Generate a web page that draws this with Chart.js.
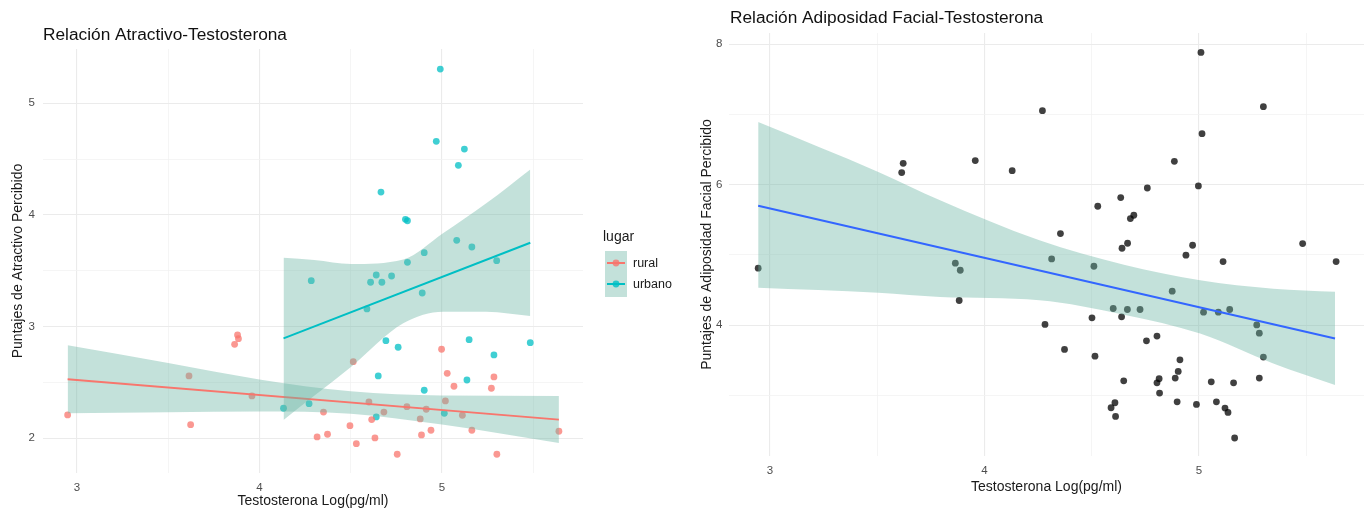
<!DOCTYPE html>
<html lang="es">
<head>
<meta charset="utf-8">
<title>Relación Testosterona</title>
<script src="https://cdn.jsdelivr.net/npm/chart.js@4.4.1/dist/chart.umd.min.js"></script>
<style>
  html, body { margin: 0; padding: 0; background: #fff; }
  #wrap { position: relative; width: 1369px; height: 512px; overflow: hidden; }
  #attrChart { position: absolute; left: 0; top: 0; }
  #adipChart { position: absolute; left: 690px; top: 0; }
</style>
</head>
<body>
<div id="wrap">
  <canvas id="attrChart" width="690" height="512"></canvas>
  <canvas id="adipChart" width="679" height="512"></canvas>
</div>
<script>
const FONT = '"Liberation Sans", Arial, sans-serif';

// --- Relación Atractivo-Testosterona ---
const ruralX = [2.949, 3.614, 3.623, 3.880, 3.885, 3.864, 3.959, 4.351, 4.316, 4.373, 4.496, 4.514, 4.531, 4.600, 4.615, 4.633, 4.682,
    4.755, 4.808, 4.881, 4.888, 4.914, 4.940, 4.998, 5.019, 5.029, 5.066, 5.112, 5.164, 5.271, 5.285, 5.301, 5.641];
const ruralY = [2.209, 2.558, 2.122, 2.925, 2.892, 2.841, 2.379, 2.235, 2.012, 2.036, 2.113, 2.686, 1.952, 2.325, 2.167, 2.003, 2.235,
    1.857, 2.283, 2.173, 2.030, 2.260, 2.072, 2.797, 2.334, 2.582, 2.466, 2.206, 2.072, 2.448, 2.549, 1.857, 2.063];
const urbanoX = [4.132, 4.272, 4.284, 4.589, 4.609, 4.640, 4.640, 4.651, 4.666, 4.671, 4.693, 4.724, 4.760, 4.800, 4.811, 4.811,
    4.892, 4.903, 4.903, 4.969, 4.991, 5.013, 5.081, 5.090, 5.123, 5.137, 5.149, 5.164, 5.285, 5.300, 5.484];
const urbanoY = [2.269, 2.310, 3.411, 3.158, 3.397, 3.462, 2.191, 2.558, 4.205, 3.397, 2.874, 3.453, 2.815, 3.961, 3.948, 3.576,
    3.301, 3.662, 2.430, 4.659, 5.306, 2.224, 3.773, 4.444, 4.590, 2.522, 2.883, 3.713, 2.746, 3.590, 2.856];

// fitted lines and confidence bands
const ruralFitX = [2.949, 5.641];
const ruralFitY = [2.528, 2.167];
const ruralBandX = [2.949, 3.5, 4.0, 4.5, 5.0, 5.641];
const ruralBandUpper = [2.833, 2.674, 2.527, 2.420, 2.383, 2.379];
const ruralBandLower = [2.224, 2.234, 2.240, 2.220, 2.123, 1.957];
const urbanoFitX = [4.132, 5.484];
const urbanoFitY = [2.895, 3.751];
const urbanoBandX = [4.132, 4.3, 4.503, 4.788, 5.006, 5.243, 5.484];
const urbanoBandUpper = [3.617, 3.596, 3.560, 3.600, 3.835, 4.104, 4.408];
const urbanoBandLower = [2.164, 2.380, 2.641, 3.030, 3.134, 3.134, 3.095];

const attrXTicks = [3, 4, 5];
const attrXMinor = [3.5, 4.5, 5.5];
const attrYTicks = [2, 3, 4, 5];
const attrYMinor = [2.5, 3.5, 4.5];
const legendLabels = ['rural', 'urbano'];

// --- Relación Adiposidad Facial-Testosterona ---
const adipX = [2.945, 3.614, 3.621, 3.864, 3.882, 3.887, 3.957, 4.129, 4.270, 4.282, 4.313, 4.354, 4.373, 4.501, 4.510, 4.515,
    4.528, 4.590, 4.600, 4.608, 4.611, 4.635, 4.639, 4.641, 4.649, 4.666, 4.667, 4.680, 4.696, 4.725, 4.755, 4.759, 4.804, 4.804,
    4.814, 4.816, 4.875, 4.885, 4.889, 4.898, 4.903, 4.911, 4.939, 4.970, 4.988, 4.997, 5.009, 5.014, 5.021, 5.057, 5.081, 5.090,
    5.112, 5.121, 5.135, 5.143, 5.161, 5.166, 5.269, 5.281, 5.281, 5.300, 5.300, 5.483, 5.639];
const adipY = [4.811, 6.172, 6.304, 4.882, 4.351, 4.782, 6.343, 6.200, 7.054, 4.010, 4.943, 5.304, 3.654, 4.104, 4.839, 3.559,
    5.693, 2.824, 4.237, 2.895, 2.701, 5.816, 4.118, 5.095, 3.208, 4.223, 5.166, 5.518, 5.565, 4.223, 3.777, 5.953, 3.844, 3.179,
    3.237, 3.033, 4.484, 6.333, 3.246, 2.909, 3.341, 3.507, 4.996, 5.138, 2.872, 5.982, 7.883, 6.727, 4.185, 3.193, 2.909, 4.185,
    4.906, 2.819, 2.758, 4.223, 3.179, 2.393, 4.004, 3.886, 3.246, 3.545, 7.111, 5.162, 4.906];

const adipFitX = [2.945, 5.634];
const adipFitY = [5.700, 3.810];
const adipBandX = [2.945, 3.505, 3.793, 4.256, 4.65, 5.005, 5.346, 5.634];
const adipBandUpper = [6.892, 6.181, 5.778, 5.209, 4.860, 4.640, 4.520, 4.474];
const adipBandLower = [4.531, 4.460, 4.400, 4.356, 4.150, 3.880, 3.455, 3.147];

const adipXTicks = [3, 4, 5];
const adipXMinor = [3.5, 4.5, 5.5];
const adipYTicks = [4, 6, 8];
const adipYMinor = [3, 5, 7];

const BAND_FILL = 'rgba(105, 179, 162, 0.4)';
const RURAL = '#F8766D';
const URBANO = '#00BFC4';

function toPoints(xs, ys) {
    return xs.map((x, i) => ({ x: x, y: ys[i] }));
}

function pointSet(xs, ys, color, order) {
    return {
        data: toPoints(xs, ys),
        showLine: false,
        backgroundColor: color,
        borderWidth: 0,
        pointRadius: 3.4,
        pointHoverRadius: 3.4,
        order: order
    };
}

// upper edge fills down to the next dataset (lower edge)
function bandSets(xs, up, lo, order) {
    const edge = {
        showLine: true,
        borderColor: 'transparent',
        borderWidth: 0,
        pointRadius: 0,
        cubicInterpolationMode: 'monotone',
        order: order
    };
    return [
        Object.assign({}, edge, { data: toPoints(xs, up), fill: '+1', backgroundColor: BAND_FILL }),
        Object.assign({}, edge, { data: toPoints(xs, lo), fill: false })
    ];
}

function fitLine(xs, ys, color, order) {
    return {
        data: toPoints(xs, ys),
        showLine: true,
        borderColor: color,
        borderWidth: 2,
        pointRadius: 0,
        fill: false,
        order: order
    };
}

function linearAxis(o) {
    const all = o.major.concat(o.minor).sort((a, b) => a - b);
    return {
        type: 'linear',
        min: o.min,
        max: o.max,
        afterBuildTicks: s => { s.ticks = all.map(v => ({ value: v })); },
        afterFit: s => {
            if (o.axis === 'x') s.height = o.size;
            else s.width = o.size;
        },
        border: { display: false },
        grid: {
            drawTicks: false,
            color: c => o.major.includes(c.tick.value) ? '#ebebeb' : '#f3f3f3',
            lineWidth: c => o.major.includes(c.tick.value) ? 1.1 : 0.8
        },
        ticks: {
            autoSkip: false,
            maxRotation: 0,
            padding: o.tickPad,
            color: '#4d4d4d',
            font: { family: FONT, size: 11.5 },
            callback: v => o.major.includes(v) ? String(v) : ''
        },
        title: {
            display: true,
            text: o.title,
            color: '#1a1a1a',
            font: { family: FONT, size: 14 },
            padding: o.titlePad
        }
    };
}

const ggTitle = {
    id: 'ggTitle',
    afterDraw(chart, args, opts) {
        const ctx = chart.ctx;
        ctx.save();
        ctx.font = '17.3px ' + FONT;
        ctx.fillStyle = '#111';
        ctx.textBaseline = 'alphabetic';
        ctx.fillText(opts.text, opts.x, opts.y);
        ctx.restore();
    }
};

const ggLegend = {
    id: 'ggLegend',
    afterDraw(chart, args, opts) {
        const ctx = chart.ctx;
        ctx.save();
        ctx.fillStyle = '#1a1a1a';
        ctx.font = '14px ' + FONT;
        ctx.textBaseline = 'alphabetic';
        ctx.fillText(opts.title, opts.x - 2, opts.y);

        const keyTop = opts.y + 10;
        const rowH = 21;
        ctx.fillStyle = BAND_FILL;
        ctx.fillRect(opts.x, keyTop, 22, rowH * opts.labels.length + 4);

        opts.labels.forEach((lab, i) => {
            const cy = keyTop + 12 + i * rowH;
            ctx.strokeStyle = opts.colors[i];
            ctx.lineWidth = 2;
            ctx.beginPath();
            ctx.moveTo(opts.x + 2, cy);
            ctx.lineTo(opts.x + 20, cy);
            ctx.stroke();
            ctx.globalAlpha = 0.8;
            ctx.fillStyle = opts.colors[i];
            ctx.beginPath();
            ctx.arc(opts.x + 11, cy, 3.4, 0, Math.PI * 2);
            ctx.fill();
            ctx.globalAlpha = 1;
            ctx.fillStyle = '#1a1a1a';
            ctx.font = '12.5px ' + FONT;
            ctx.textBaseline = 'middle';
            ctx.fillText(lab, opts.x + 28, cy + 1);
        });
        ctx.restore();
    }
};

Chart.defaults.font.family = FONT;

new Chart(document.getElementById('attrChart'), {
    type: 'line',
    data: {
        datasets: [
            pointSet(ruralX, ruralY, 'rgba(248, 118, 109, 0.75)', 9),
            pointSet(urbanoX, urbanoY, 'rgba(0, 191, 196, 0.75)', 9),
            ...bandSets(ruralBandX, ruralBandUpper, ruralBandLower, 7),
            fitLine(ruralFitX, ruralFitY, RURAL, 6),
            ...bandSets(urbanoBandX, urbanoBandUpper, urbanoBandLower, 5),
            fitLine(urbanoFitX, urbanoFitY, URBANO, 4)
        ]
    },
    options: {
        responsive: false,
        animation: false,
        events: [],
        layout: { padding: { left: 0, top: 49, right: 107, bottom: 0 } },
        scales: {
            x: linearAxis({ axis: 'x', min: 2.814, max: 5.773, major: attrXTicks, minor: attrXMinor, size: 39, tickPad: 8,
                title: 'Testosterona Log(pg/ml)', titlePad: { top: 0, bottom: 2.6 } }),
            y: linearAxis({ axis: 'y', min: 1.689, max: 5.486, major: attrYTicks, minor: attrYMinor, size: 43, tickPad: 8,
                title: 'Puntajes de Atractivo Percibido', titlePad: { top: 9.6, bottom: 0 } })
        },
        plugins: {
            legend: { display: false },
            tooltip: { enabled: false },
            ggTitle: { text: 'Relación Atractivo-Testosterona', x: 43, y: 40 },
            ggLegend: { title: 'lugar', labels: legendLabels, colors: [RURAL, URBANO], x: 605, y: 241 }
        }
    },
    plugins: [ggTitle, ggLegend]
});

new Chart(document.getElementById('adipChart'), {
    type: 'line',
    data: {
        datasets: [
            pointSet(adipX, adipY, 'rgba(0, 0, 0, 0.75)', 9),
            ...bandSets(adipBandX, adipBandUpper, adipBandLower, 7),
            fitLine(adipFitX, adipFitY, '#3366FF', 6)
        ]
    },
    options: {
        responsive: false,
        animation: false,
        events: [],
        layout: { padding: { left: 0, top: 33, right: 5, bottom: 0 } },
        scales: {
            x: linearAxis({ axis: 'x', min: 2.809, max: 5.769, major: adipXTicks, minor: adipXMinor, size: 56, tickPad: 8,
                title: 'Testosterona Log(pg/ml)', titlePad: { top: 0, bottom: 16.6 } }),
            y: linearAxis({ axis: 'y', min: 2.137, max: 8.16, major: adipYTicks, minor: adipYMinor, size: 39, tickPad: 6.5,
                title: 'Puntajes de Adiposidad Facial Percibido', titlePad: { top: 8.6, bottom: 0 } })
        },
        plugins: {
            legend: { display: false },
            tooltip: { enabled: false },
            ggTitle: { text: 'Relación Adiposidad Facial-Testosterona', x: 40, y: 23 }
        }
    },
    plugins: [ggTitle]
});
</script>
</body>
</html>
